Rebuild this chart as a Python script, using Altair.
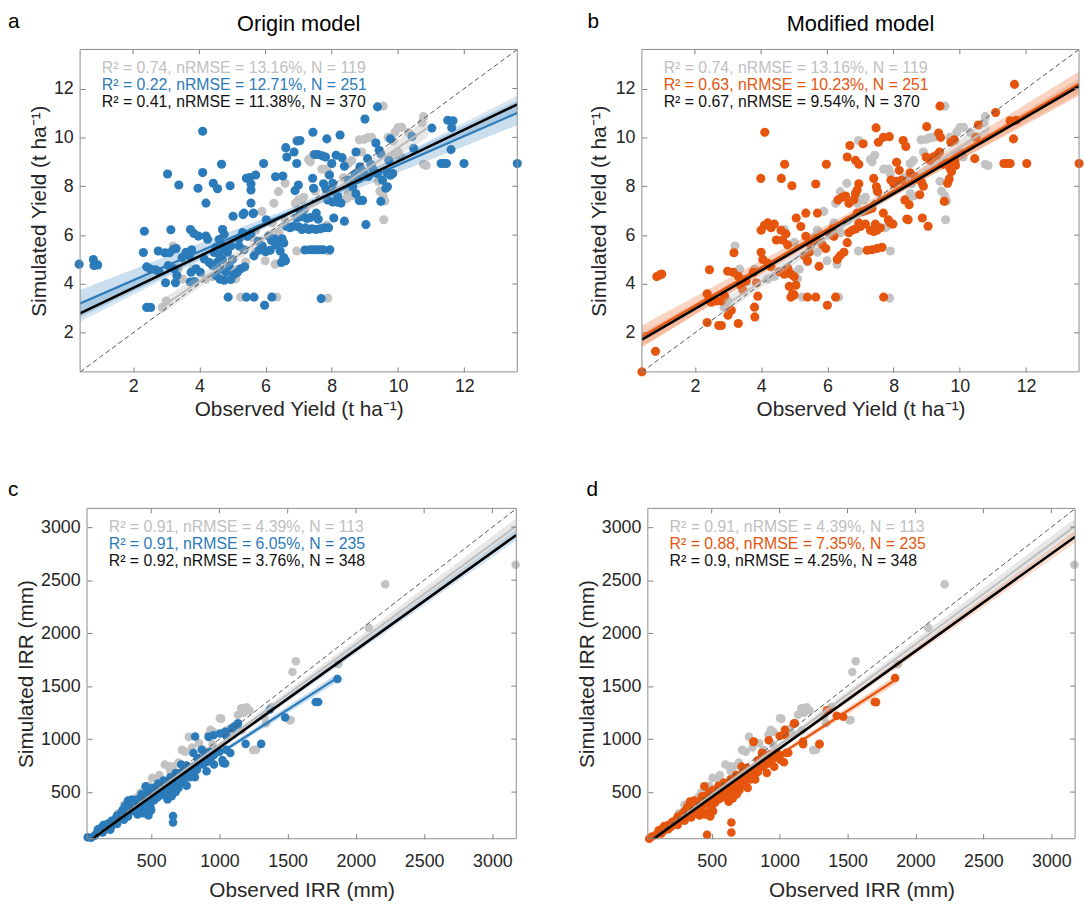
import altair as alt
import pandas as pd

FONT = "Liberation Sans"
BLUE = "#2b7bba"
ORANGE = "#e6550d"
GRAY = "#c3c3c3"
INK = "#262626"
FRAME = "#8c8c8c"

# ---------------- data ----------------
# observed / simulated yield (t/ha): reference points (grey), shared by panels a and b
YIELD_REF = [
    (2.88, 3.04), (5.25, 3.46), (6.34, 3.46), (7.88, 3.42), (5.99, 4.95), (6.29, 4.81), (5.89, 6.97),
    (6.39, 7.78), (6.59, 8.12), (6.94, 9.87), (6.94, 5.35), (4.7, 6.23), (3.21, 5.55), (5.1, 4.21),
    (3.35, 4.61), (7.09, 7.44), (7.43, 9.27), (8.5, 8.93), (8.6, 9.05), (8.83, 9.9), (8.98, 9.92),
    (9.08, 9.98), (9.2, 10.0), (9.57, 6.63), (9.55, 11.28), (9.7, 10.0), (9.85, 9.85), (10.0, 9.4),
    (9.9, 9.3), (10.1, 9.2), (10.0, 10.4), (10.77, 10.85), (10.72, 10.6), (10.77, 8.9), (10.85, 8.85),
    (10.11, 10.41), (10.31, 10.21), (9.91, 10.21), (9.4, 8.2), (9.45, 7.8), (9.55, 7.6), (9.6, 7.4),
    (8.5, 7.7), (8.6, 7.6), (8.35, 8.35), (8.55, 8.1), (8.45, 7.5), (7.7, 8.7), (7.85, 8.7), (7.9, 8.5),
    (7.3, 9.1), (7.35, 9.0), (6.9, 7.3), (7.0, 7.45), (7.15, 7.55), (6.6, 6.6), (6.4, 6.1), (6.2, 6.5),
    (5.7, 6.2), (5.6, 5.9), (7.9, 5.35), (7.75, 6.3), (7.85, 6.4), (4.2, 4.2), (4.4, 4.3), (4.9, 4.5),
    (5.15, 4.6), (5.4, 4.9), (5.7, 5.3), (5.0, 5.7), (3.0, 3.3), (3.5, 4.2), (3.8, 4.6), (6.1, 6.0),
    (6.25, 7.3), (7.5, 7.8), (8.9, 9.4),
]

# panel a: origin model (blue)
YIELD_ORIGIN = [
    (0.37, 4.81), (0.8, 5.0), (0.82, 4.75), (0.93, 4.78), (2.34, 6.16), (2.31, 5.29), (2.41, 4.7),
    (2.51, 4.62), (2.41, 3.04), (2.53, 3.04), (2.76, 5.35), (2.96, 5.28), (3.1, 5.28), (3.3, 5.45),
    (2.68, 4.58), (2.78, 4.5), (2.98, 4.05), (3.28, 4.05), (3.04, 8.5), (3.14, 6.22), (3.22, 5.42),
    (3.06, 4.75), (3.24, 4.62), (3.32, 4.35), (3.38, 8.05), (3.48, 5.08), (3.6, 5.3), (3.7, 5.15),
    (3.77, 5.4), (3.73, 6.23), (3.83, 6.07), (3.97, 5.96), (3.75, 4.48), (3.9, 4.62), (4.03, 4.48),
    (3.73, 4.08), (3.86, 4.1), (3.96, 7.92), (4.1, 10.25), (4.1, 8.56), (4.2, 7.31), (4.2, 5.96),
    (4.25, 5.83), (4.42, 8.12), (4.55, 7.9), (4.67, 8.9), (4.93, 8.02), (5.02, 6.77), (4.15, 5.02),
    (4.3, 4.88), (4.4, 4.75), (4.45, 5.29), (4.6, 5.82), (4.7, 6.23), (4.75, 6.03), (4.6, 5.2),
    (4.75, 5.45), (4.85, 5.3), (4.95, 5.55), (4.5, 5.5), (4.65, 5.6), (4.5, 4.35), (4.62, 4.2),
    (4.75, 4.15), (4.95, 4.18), (5.05, 4.4), (4.62, 4.6), (4.8, 4.5), (4.9, 4.75), (4.55, 4.9),
    (4.7, 5.0), (5.0, 5.0), (4.87, 3.46), (5.15, 4.48), (5.25, 4.62), (5.37, 4.7), (5.35, 6.9),
    (5.52, 8.36), (5.56, 8.09), (5.56, 7.85), (5.56, 7.31), (5.64, 6.9), (5.42, 8.33), (5.7, 8.46),
    (5.42, 3.46), (5.65, 3.46), (5.62, 6.88), (5.32, 6.84), (5.65, 5.15), (5.8, 5.38), (5.9, 5.45),
    (6.0, 5.32), (6.14, 5.38), (5.78, 5.75), (5.9, 5.55), (5.94, 8.93), (5.97, 3.13), (6.02, 6.63),
    (6.1, 5.95), (6.18, 5.78), (6.26, 5.85), (6.31, 5.6), (6.44, 5.72), (6.5, 5.85), (6.55, 5.68),
    (6.19, 3.46), (6.3, 8.39), (6.52, 8.42), (6.44, 5.35), (6.55, 5.08), (6.6, 4.95), (6.48, 4.88),
    (6.61, 9.58), (6.64, 9.2), (6.62, 6.36), (6.74, 6.3), (6.84, 6.36), (6.99, 6.34), (6.86, 9.4),
    (6.94, 8.93), (6.89, 7.82), (6.99, 8.05), (6.96, 9.85), (7.04, 6.9), (7.16, 7.04), (7.19, 5.39),
    (7.34, 5.4), (7.44, 5.4), (7.54, 5.4), (7.64, 5.4), (7.74, 5.4), (7.94, 5.4), (7.1, 6.23),
    (7.2, 6.3), (7.3, 6.23), (7.4, 6.26), (7.52, 6.23), (7.65, 6.26), (7.78, 6.3), (7.9, 6.3),
    (7.43, 10.21), (7.48, 9.3), (7.58, 9.3), (7.71, 9.25), (7.81, 9.2), (7.42, 8.33), (7.45, 7.92),
    (7.53, 6.9), (7.68, 3.4), (7.75, 8.1), (7.82, 7.9), (7.85, 9.94), (7.93, 8.46), (8.03, 8.12),
    (8.08, 7.78), (8.18, 7.58), (8.28, 7.31), (7.88, 7.44), (8.03, 7.35), (8.18, 7.35), (8.0, 8.93),
    (8.06, 6.7), (8.13, 9.27), (8.31, 9.17), (8.38, 8.82), (8.25, 10.1), (8.38, 6.57), (8.51, 8.25),
    (8.63, 7.98), (8.73, 7.69), (8.73, 9.4), (8.85, 8.8), (8.83, 7.42), (8.93, 7.42), (9.0, 10.75),
    (9.03, 6.43), (9.08, 9.13), (9.18, 8.9), (9.23, 8.73), (9.33, 9.77), (9.43, 9.47), (9.48, 9.33),
    (9.38, 11.25), (9.38, 8.52), (9.53, 8.25), (9.63, 7.92), (9.68, 7.98), (9.48, 7.38), (9.67, 8.55),
    (9.77, 8.45), (9.84, 8.52), (9.77, 9.94), (9.72, 9.06), (10.42, 10.04), (10.47, 9.55),
    (11.02, 10.38), (11.3, 8.93), (11.38, 8.93), (11.46, 8.93), (11.5, 10.7), (11.66, 10.68),
    (11.62, 10.4), (11.6, 9.5), (11.99, 8.93), (13.6, 8.93), (5.2, 5.85), (5.3, 6.1), (5.45, 5.95),
    (5.55, 6.05), (5.2, 5.55), (5.35, 5.4), (6.94, 6.7), (7.1, 6.75), (7.25, 6.68), (7.35, 6.72),
    (7.59, 6.65), (8.7, 8.5), (8.8, 8.3), (8.95, 8.6), (9.1, 8.4), (7.04, 9.87),
]

# panel b: modified model (orange)
YIELD_MODIFIED = [
    (0.4, 0.4), (0.81, 1.24), (0.85, 4.3), (0.94, 4.37), (1.0, 4.41), (2.44, 4.58), (2.37, 3.6),
    (2.42, 3.35), (2.5, 3.25), (2.37, 2.42), (2.72, 2.3), (2.8, 2.3), (2.65, 3.3), (2.8, 3.3),
    (2.9, 3.5), (3.0, 2.72), (3.1, 2.92), (2.99, 4.52), (3.16, 4.48), (3.31, 4.31), (3.18, 5.28),
    (3.31, 2.38), (3.38, 3.95), (3.45, 3.75), (3.55, 4.1), (3.76, 4.48), (3.86, 4.05), (3.9, 3.5),
    (3.8, 3.05), (3.81, 2.65), (3.99, 8.32), (4.0, 6.2), (4.1, 6.4), (4.2, 6.5), (4.3, 6.3),
    (4.4, 6.45), (4.0, 5.3), (4.05, 5.0), (4.2, 4.85), (4.3, 4.7), (4.11, 10.21), (4.46, 5.8),
    (4.61, 8.32), (4.71, 8.9), (4.6, 6.2), (4.65, 5.8), (4.75, 6.05), (4.8, 5.6), (4.55, 4.5),
    (4.7, 4.4), (4.8, 4.65), (4.9, 4.4), (5.0, 4.3), (4.85, 3.9), (4.95, 3.6), (4.9, 3.46),
    (5.0, 3.55), (5.05, 3.95), (4.93, 8.02), (5.06, 6.7), (5.2, 6.35), (5.35, 5.95), (5.3, 5.15),
    (5.4, 4.95), (5.45, 5.3), (5.35, 6.9), (5.4, 3.46), (5.65, 3.46), (5.5, 5.6), (5.6, 5.75),
    (5.67, 5.85), (5.85, 5.6), (5.95, 5.45), (5.65, 8.09), (5.7, 6.9), (5.75, 4.72), (5.97, 8.9),
    (6.0, 3.13), (6.05, 6.1), (6.15, 6.25), (6.2, 5.95), (6.25, 3.46), (6.32, 7.44), (6.45, 7.55),
    (6.55, 7.6), (6.3, 5.0), (6.38, 5.15), (6.5, 5.3), (6.6, 9.2), (6.68, 9.67), (6.6, 5.69),
    (6.65, 7.3), (6.8, 7.45), (6.9, 7.85), (6.95, 8.1), (6.85, 7.7), (6.85, 9.06), (6.95, 8.9),
    (6.9, 6.9), (7.05, 6.95), (7.15, 7.0), (7.25, 7.05), (7.35, 7.1), (6.65, 6.1), (6.75, 6.2),
    (6.85, 6.25), (6.95, 6.5), (7.08, 9.74), (7.2, 5.38), (7.35, 5.4), (7.5, 5.45), (7.65, 5.5),
    (7.3, 6.2), (7.4, 6.15), (7.5, 6.2), (7.6, 6.3), (7.4, 8.32), (7.48, 7.98), (7.52, 7.78),
    (7.47, 10.39), (7.54, 9.8), (7.69, 10.0), (7.7, 3.46), (7.69, 6.9), (7.84, 6.63), (7.9, 6.5),
    (7.98, 6.45), (7.87, 10.03), (7.92, 8.25), (8.0, 8.1), (8.08, 8.2), (8.09, 8.98), (8.17, 8.65),
    (8.24, 8.25), (8.29, 9.87), (8.37, 9.63), (8.34, 7.44), (8.47, 7.24), (8.44, 6.63), (8.5, 8.55),
    (8.65, 8.4), (8.75, 8.3), (8.85, 8.15), (8.9, 8.0), (8.79, 7.65), (8.87, 6.7), (9.04, 6.36),
    (9.0, 10.44), (9.1, 9.06), (9.2, 9.2), (9.3, 9.27), (9.39, 9.4), (9.36, 10.18), (9.42, 10.0),
    (9.4, 11.28), (9.5, 8.9), (9.6, 8.95), (9.7, 8.75), (9.75, 8.6), (9.53, 7.38), (9.63, 8.12),
    (9.68, 8.3), (9.73, 9.8), (9.83, 9.9), (9.85, 9.0), (9.87, 8.85), (10.45, 9.13), (10.48, 10.01),
    (10.56, 10.51), (11.08, 11.02), (11.33, 8.93), (11.43, 8.93), (11.52, 8.93), (11.52, 10.68),
    (11.62, 9.94), (11.65, 12.17), (11.7, 10.7), (12.02, 8.93), (13.6, 8.93), (8.98, 9.2),
    (8.4, 6.66), (7.0, 6.35), (7.15, 6.45), (7.45, 6.45),
]

# observed / simulated irrigation (mm): reference points (grey), shared by panels c and d
IRR_REF = [
    (180, 182), (210, 195), (350, 369), (422, 494), (450, 520), (507, 634), (560, 660), (628, 743),
    (600, 760), (660, 740), (725, 899), (750, 880), (775, 1021), (727, 896), (800, 920), (850, 960),
    (918, 1040), (935, 1087), (955, 1070), (1003, 1196), (1013, 1193), (1050, 1080), (1080, 1100),
    (1136, 1230), (1160, 1290), (1180, 1250), (1200, 1300), (1220, 1270), (1163, 1083), (1247, 896),
    (1269, 899), (1330, 1208), (1342, 1149), (1514, 1177), (1523, 1180), (1535, 1633), (1560, 1735),
    (1870, 1707), (2094, 2051), (2215, 2462), (3170, 2645), (1100, 1040), (950, 950), (880, 900),
    (700, 780), (640, 700), (560, 600), (480, 560), (400, 450), (300, 380), (260, 300), (120, 140),
    (90, 100), (1380, 1300),
]

IRR_ORIGIN = [
    (35, 73), (60, 70), (83, 85), (100, 110), (120, 130), (145, 120), (160, 150), (180, 165),
    (205, 170), (200, 145), (230, 220), (250, 200), (265, 245), (290, 260), (300, 240), (320, 300),
    (350, 320), (330, 270), (290, 330), (310, 370), (340, 360), (370, 400), (385, 420), (400, 430),
    (330, 420), (360, 430), (390, 310), (400, 290), (420, 330), (440, 300), (460, 320), (480, 280),
    (500, 330), (495, 360), (470, 400), (459, 556), (420, 440), (440, 470), (460, 480), (520, 460),
    (540, 500), (560, 530), (580, 500), (600, 520), (620, 560), (640, 480), (660, 530), (690, 560),
    (520, 420), (545, 450), (570, 470), (600, 470), (620, 430), (650, 460), (680, 500), (700, 540),
    (720, 600), (740, 620), (760, 650), (780, 640), (800, 680), (820, 700), (835, 710), (713, 680),
    (730, 590), (760, 560), (660, 275), (660, 213), (700, 610), (750, 700), (780, 720), (809, 868),
    (845, 790), (870, 800), (895, 780), (918, 790), (906, 697), (940, 830), (960, 850), (822, 1024),
    (1027, 774), (1042, 770), (1022, 803), (1051, 1030), (1080, 868), (1090, 1100), (1110, 1120),
    (1136, 1149), (1192, 955), (1306, 955), (1482, 1204), (1705, 1350), (1724, 1350), (1865, 1567),
    (1134, 1137), (1005, 1052), (1042, 1068), (921, 1021), (957, 1037), (880, 820), (850, 760),
    (900, 860), (980, 900), (1000, 880), (960, 760), (1050, 900), (930, 880), (870, 900), (760, 750),
    (720, 760), (680, 680), (640, 640), (590, 610), (550, 580), (480, 520), (430, 480), (380, 360),
    (350, 380), (250, 280), (210, 230), (180, 200), (130, 160), (110, 150), (150, 190), (600, 580),
    (640, 560), (690, 640), (740, 700), (560, 560), (510, 540), (470, 450), (430, 380), (410, 380),
    (450, 420), (530, 520), (590, 540), (710, 650), (770, 680), (810, 740), (840, 820), (820, 640),
    (880, 760), (1370, 1280), (240, 250), (280, 300), (320, 340), (360, 390), (410, 410), (450, 450),
    (500, 480), (550, 520), (610, 600), (660, 620), (700, 660), (740, 660), (780, 700), (560, 480),
    (620, 500), (680, 590), (380, 330), (330, 350), (270, 280), (200, 200), (170, 180), (480, 430),
]

IRR_MODIFIED = [
    (40, 60), (60, 80), (90, 95), (110, 120), (130, 110), (150, 140), (180, 150), (200, 170),
    (220, 200), (250, 190), (270, 240), (300, 230), (320, 280), (340, 300), (350, 260), (300, 320),
    (320, 360), (350, 350), (380, 380), (400, 400), (420, 420), (340, 410), (370, 420), (390, 300),
    (410, 280), (430, 310), (450, 290), (470, 310), (490, 270), (510, 320), (500, 350), (475, 390),
    (446, 556), (430, 430), (450, 460), (470, 470), (520, 440), (545, 480), (565, 510), (585, 480),
    (605, 500), (625, 540), (645, 460), (665, 510), (695, 540), (525, 400), (550, 430), (575, 450),
    (605, 450), (625, 410), (655, 440), (685, 480), (705, 520), (725, 580), (745, 600), (765, 630),
    (785, 620), (805, 660), (825, 680), (840, 690), (715, 660), (735, 570), (765, 540), (645, 213),
    (645, 119), (466, 98), (705, 590), (755, 680), (785, 700), (810, 977), (845, 760), (870, 780),
    (895, 760), (918, 770), (906, 680), (940, 800), (960, 820), (1008, 803), (1032, 781),
    (1039, 1087), (1112, 1149), (1172, 977), (1293, 955), (1361, 1274), (1468, 1211), (1700, 1350),
    (1710, 1349), (1850, 1576), (1105, 1146), (1000, 1030), (1040, 1040), (920, 990), (880, 800),
    (850, 740), (900, 840), (980, 870), (1000, 850), (960, 740), (1050, 870), (930, 860), (870, 870),
    (760, 730), (720, 740), (680, 660), (640, 620), (590, 590), (550, 560), (480, 500), (430, 460),
    (380, 350), (350, 370), (250, 270), (210, 220), (180, 190), (130, 150), (110, 140), (150, 180),
    (600, 560), (640, 540), (690, 620), (740, 680), (560, 540), (510, 520), (470, 440), (430, 370),
    (410, 370), (450, 400), (530, 500), (590, 520), (710, 630), (770, 660), (810, 720), (840, 800),
    (820, 620), (880, 740), (1064, 871), (1294, 952), (1173, 952), (1347, 1271), (807, 974),
    (1420, 1220), (240, 240), (280, 290), (320, 330), (360, 380), (410, 400), (450, 430),
    (500, 460), (550, 500), (610, 580), (660, 600), (700, 640), (740, 640), (780, 680), (560, 460),
    (620, 480), (680, 570), (380, 320), (330, 340), (270, 270), (200, 190), (170, 170), (480, 420),
]

# fitted lines (x ends, y ends) and their confidence bands (x, lower, upper)
FIT_YIELD_REF = ([2.85, 10.9], [3.05, 10.4])
BAND_YIELD_REF = ([2.85, 7.0, 10.9], [2.75, 6.72, 10.0], [3.35, 6.96, 10.8])
FIT_YIELD_ORIGIN = ([0.4, 13.6], [3.2, 11.0])
BAND_YIELD_ORIGIN = ([0.4, 6.8, 13.6], [2.65, 6.83, 10.5], [3.75, 7.13, 11.5])
FIT_YIELD_ORIGIN_ALL = ([0.4, 13.6], [2.8, 11.35])
BAND_YIELD_ORIGIN_ALL = ([0.4, 6.8, 13.6], [2.45, 6.87, 11.0], [3.15, 7.03, 11.7])
FIT_YIELD_MOD = ([0.4, 13.6], [1.85, 12.2])
BAND_YIELD_MOD = ([0.4, 6.8, 13.6], [1.4, 6.72, 11.7], [2.3, 7.02, 12.7])
FIT_YIELD_MOD_ALL = ([0.4, 13.6], [1.72, 12.1])
BAND_YIELD_MOD_ALL = ([0.4, 6.8, 13.6], [1.45, 6.67, 11.8], [2.0, 6.83, 12.4])

FIT_IRR_REF = ([50, 3170], [45, 3005])
BAND_IRR_REF = ([50, 900, 3170], [20, 831, 2930], [70, 871, 3080])
FIT_IRR_ORIGIN = ([50, 1865], [75, 1580])
BAND_IRR_ORIGIN = ([50, 700, 1865], [50, 600, 1540], [100, 628, 1620])
FIT_IRR_ORIGIN_ALL = ([30, 3175], [24, 2925])
BAND_IRR_ORIGIN_ALL = ([30, 700, 3175], [4, 630, 2875], [44, 652, 2980])
FIT_IRR_MOD = ([45, 1860], [60, 1565])
BAND_IRR_MOD = ([45, 700, 1860], [35, 590, 1525], [85, 616, 1605])
FIT_IRR_MOD_ALL = ([30, 3175], [20, 2910])
BAND_IRR_MOD_ALL = ([30, 700, 3175], [0, 624, 2855], [40, 646, 2965])

YIELD_DOMAIN = [0.4, 13.6]
IRR_X_DOMAIN = [30, 3175]
IRR_Y_DOMAIN = [60, 3177]
YIELD_ONE_TO_ONE = [0.4, 13.6]
IRR_ONE_TO_ONE = [60, 3175]
YIELD_TICKS = [2, 4, 6, 8, 10, 12]
IRR_TICKS = [500, 1000, 1500, 2000, 2500, 3000]

ANN_A = ["R² = 0.74, nRMSE = 13.16%, N = 119", "R² = 0.22, nRMSE = 12.71%, N = 251", "R² = 0.41, nRMSE = 11.38%, N = 370"]
ANN_B = ["R² = 0.74, nRMSE = 13.16%, N = 119", "R² = 0.63, nRMSE = 10.23%, N = 251", "R² = 0.67, nRMSE = 9.54%, N = 370"]
ANN_C = ["R² = 0.91, nRMSE = 4.39%, N = 113", "R² = 0.91, nRMSE = 6.05%, N = 235", "R² = 0.92, nRMSE = 3.76%, N = 348"]
ANN_D = ["R² = 0.91, nRMSE = 4.39%, N = 113", "R² = 0.88, nRMSE = 7.35%, N = 235", "R² = 0.9, nRMSE = 4.25%, N = 348"]


def axis(ticks, title, lab_pad, title_pad, offset=0):
    return alt.Axis(values=ticks, title=title, grid=False, domain=False, ticks=True,
                    tickSize=alt.ExprRef(expr="-5"), tickColor="#808080", tickWidth=1,
                    labelPadding=lab_pad, labelFont=FONT, labelFontSize=18, labelColor=INK,
                    labelFlush=False, titleFont=FONT, titleFontSize=21, titleFontWeight="normal",
                    titleColor=INK, titlePadding=title_pad, format="d", offset=offset)


def panel(ref, new, color, fits, bands, xdom, ydom, one, ticks, w, h, xtitle, ytitle, ann, letter,
          lpos, title=None, psize=85, shift=0, ytpad=6, xlpad=11, xtpad=3):
    # shift: blank pixels kept at the left of the group (the frame starts there)
    W = w + shift
    xs = alt.Scale(domain=xdom, nice=False, zero=False, range=[shift, W])
    ys = alt.Scale(domain=ydom, nice=False, zero=False)
    xax = axis(ticks, xtitle, xlpad, xtpad)
    yax = axis(ticks, ytitle, 12, ytpad, -shift)

    def X(f):
        return alt.X(f"{f}:Q", scale=xs, axis=xax)

    def Y(f):
        return alt.Y(f"{f}:Q", scale=ys, axis=yax)

    pts = pd.DataFrame({
        "x": [p[0] for p in ref] + [p[0] for p in new],
        "y": [p[1] for p in ref] + [p[1] for p in new],
        "c": [GRAY] * len(ref) + [color] * len(new),
    })
    layers = [alt.Chart(pts).mark_circle(size=psize, opacity=1).encode(
        x=X("x"), y=Y("y"), color=alt.Color("c:N", scale=None),
    )]
    band_cols = ["#bdbdbd", color, color]
    band_op = [0.35, 0.25, 0.2]
    for b, c, o in zip(bands, band_cols, band_op):
        bd = pd.DataFrame({"x": b[0], "lo": b[1], "hi": b[2]})
        layers.append(alt.Chart(bd).mark_area(color=c, opacity=o, clip=True).encode(
            x=X("x"), y=Y("lo"), y2="hi:Q"))
    line_cols = ["#bdbdbd", color, "#000000"]
    line_w = [2, 2.2, 2.6]
    for f, c, lw in zip(fits, line_cols, line_w):
        fd = pd.DataFrame({"x": f[0], "y": f[1]})
        layers.append(alt.Chart(fd).mark_line(color=c, strokeWidth=lw, clip=True).encode(
            x=X("x"), y=Y("y")))
    idd = pd.DataFrame({"x": one, "y": one})
    layers.append(alt.Chart(idd).mark_line(color="#555555", strokeWidth=1, strokeDash=[5, 3]).encode(
        x=X("x"), y=Y("y")))
    # box frame with inward ticks on top and right (MATLAB style)
    tk = pd.DataFrame({"v": ticks})
    layers.append(alt.Chart(tk).mark_rule(color="#808080", strokeWidth=1).encode(
        x=X("v"), y=alt.value(0), y2=alt.value(5)))
    layers.append(alt.Chart(tk).mark_rule(color="#808080", strokeWidth=1).encode(
        y=Y("v"), x=alt.value(W - 5), x2=alt.value(W)))
    fr = pd.DataFrame({"k": [0]})
    layers.append(alt.Chart(fr).mark_rect(filled=False, stroke=FRAME, strokeWidth=1).encode(
        x=alt.value(shift), x2=alt.value(W), y=alt.value(0), y2=alt.value(h)))
    for i, (t, c) in enumerate(zip(ann, ["#c0c0c0", color, "#111111"])):
        td = pd.DataFrame({"t": [t]})
        layers.append(alt.Chart(td).mark_text(align="left", baseline="middle", font=FONT,
                                               fontSize=16, color=c).encode(
            text="t:N", x=alt.value(shift + 22), y=alt.value(19 + 17 * i)))
    ld = pd.DataFrame({"t": [letter]})
    layers.append(alt.Chart(ld).mark_text(align="left", baseline="middle", font=FONT, fontSize=21,
                                          color="#000000").encode(
        text="t:N", x=alt.value(lpos[0]), y=alt.value(lpos[1])))
    if title:
        ttd = pd.DataFrame({"t": [title]})
        layers.append(alt.Chart(ttd).mark_text(align="center", baseline="middle", font=FONT,
                                               fontSize=22, color="#000000").encode(
            text="t:N", x=alt.value(shift + w / 2), y=alt.value(-26)))
    return alt.layer(*layers).properties(width=W, height=h)


pa = panel(YIELD_REF, YIELD_ORIGIN, BLUE,
           [FIT_YIELD_REF, FIT_YIELD_ORIGIN, FIT_YIELD_ORIGIN_ALL],
           [BAND_YIELD_REF, BAND_YIELD_ORIGIN, BAND_YIELD_ORIGIN_ALL],
           YIELD_DOMAIN, YIELD_DOMAIN, YIELD_ONE_TO_ONE, YIELD_TICKS, 442, 326,
           "Observed Yield (t ha⁻¹)", "Simulated Yield (t ha⁻¹)",
           ANN_A, "a", (-73, -28), "Origin model", ytpad=4)
pb = panel(YIELD_REF, YIELD_MODIFIED, ORANGE,
           [FIT_YIELD_REF, FIT_YIELD_MOD, FIT_YIELD_MOD_ALL],
           [BAND_YIELD_REF, BAND_YIELD_MOD, BAND_YIELD_MOD_ALL],
           YIELD_DOMAIN, YIELD_DOMAIN, YIELD_ONE_TO_ONE, YIELD_TICKS, 442, 326,
           "Observed Yield (t ha⁻¹)", "Simulated Yield (t ha⁻¹)",
           ANN_B, "b", (-55, -28), "Modified model", ytpad=6)
pc = panel(IRR_REF, IRR_ORIGIN, BLUE,
           [FIT_IRR_REF, FIT_IRR_ORIGIN, FIT_IRR_ORIGIN_ALL],
           [BAND_IRR_REF, BAND_IRR_ORIGIN, BAND_IRR_ORIGIN_ALL],
           IRR_X_DOMAIN, IRR_Y_DOMAIN, IRR_ONE_TO_ONE, IRR_TICKS, 434, 334,
           "Observed IRR (mm)", "Simulated IRR (mm)",
           ANN_C, "c", (-73, -19), None, 75, shift=7, ytpad=4, xlpad=19, xtpad=9)
pd_ = panel(IRR_REF, IRR_MODIFIED, ORANGE,
            [FIT_IRR_REF, FIT_IRR_MOD, FIT_IRR_MOD_ALL],
            [BAND_IRR_REF, BAND_IRR_MOD, BAND_IRR_MOD_ALL],
            IRR_X_DOMAIN, IRR_Y_DOMAIN, IRR_ONE_TO_ONE, IRR_TICKS, 432, 334,
            "Observed IRR (mm)", "Simulated IRR (mm)",
            ANN_D, "d", (-62, -19), None, 75, ytpad=4, xlpad=19, xtpad=9)

top = alt.hconcat(pa, pb, spacing=66)
bottom = alt.hconcat(pc, pd_, spacing=56)
chart = alt.vconcat(top, bottom, spacing=60).properties(
    padding={"left": 8, "top": 6, "right": 0, "bottom": 0}, background="white"
).configure_view(strokeWidth=0)

chart.save("out.html", embed_options={"renderer": "svg", "actions": False})
